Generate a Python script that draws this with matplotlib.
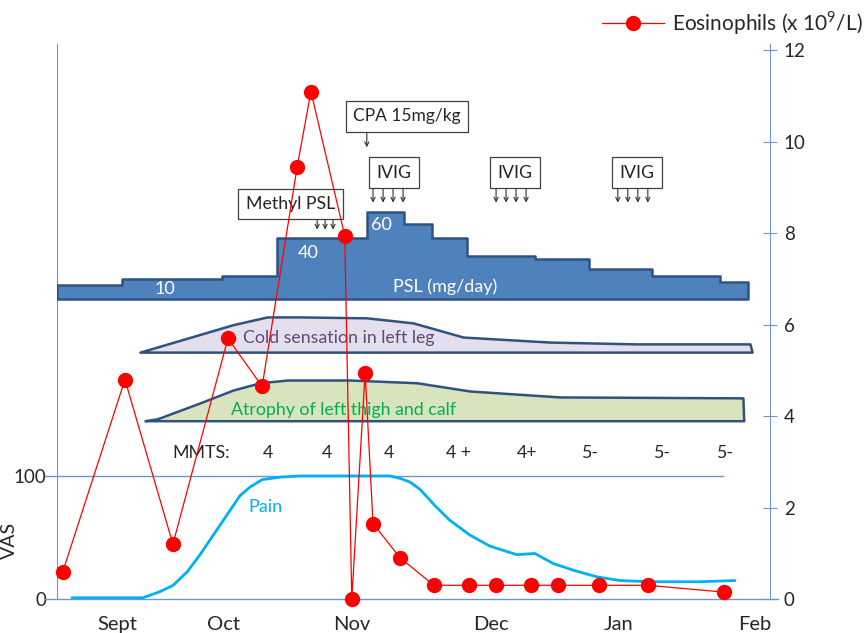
import matplotlib
matplotlib.use("Agg")
import matplotlib.pyplot as plt

plt.rcParams["font.family"] = ["Lato", "DejaVu Sans"]
plt.rcParams["mathtext.fontset"] = "custom"
plt.rcParams["mathtext.rm"] = "Lato"

# x axis: days from the start of the record
months = ["Sept", "Oct", "Nov", "Dec", "Jan", "Feb"]
month_days = [14.4, 40.0, 70.7, 104.0, 134.7, 167.4]

# eosinophil count (x 10^9/L), right axis
eos_days = [1.4, 16.3, 27.8, 41.0, 49.2, 57.6, 60.9, 69.0, 70.7, 73.9, 75.8,
            82.3, 90.4, 98.8, 105.3, 113.7, 120.1, 130.0, 141.7, 160.0]
eos_vals = [0.6, 4.8, 1.2, 5.7, 4.65, 9.45, 11.1, 7.95, 0.0, 4.95, 1.65,
            0.9, 0.3, 0.3, 0.3, 0.3, 0.3, 0.3, 0.3, 0.15]

# pain VAS, left axis
pain_days = [3.6, 10.3, 20.6, 24.7, 27.8, 31.2, 34.3, 37.9, 41.5, 43.9, 46.3,
             49.2, 53.5, 58.3, 79.9, 82.3, 84.7, 87.1, 90.6, 94.2, 99.0, 103.8,
             110.3, 114.6, 118.9, 124.2, 129.5, 135.0, 142.2, 154.2, 162.6]
pain_vas = [1, 1, 1, 6, 11, 22, 36, 54, 72, 84, 91, 97, 99, 100, 100, 98, 95,
            89, 76, 64, 52, 43, 36, 37, 29, 23, 18, 15, 14, 14, 15]

# PSL dose steps (mg/day)
psl_edges = [0, 15.6, 39.6, 52.8, 74.3, 83.2, 89.9, 98.3, 114.6, 127.6, 142.7, 159.0, 165.7]
psl_dose = [10, 14, 16, 42, 60, 52, 42, 30, 27.5, 21, 16, 12]
PSL_BASE = 6.56
PSL_SCALE = 0.0317

# symptom bands (drawn in eosinophil-axis units)
cold_days = [19.9, 42.2, 50.4, 58.3, 74.3, 85.4, 97.4, 118.2, 139.1, 166.2, 166.7]
cold_top = [5.40, 6.00, 6.17, 6.17, 6.15, 6.04, 5.73, 5.62, 5.58, 5.58, 5.40]
COLD_BASE = 5.40
atro_days = [21.1, 24.0, 34.3, 42.2, 48.7, 55.2, 70.3, 86.3, 99.0, 120.6, 164.5, 164.7]
atro_top = [3.90, 3.94, 4.29, 4.57, 4.73, 4.79, 4.79, 4.73, 4.55, 4.42, 4.40, 3.90]
ATRO_BASE = 3.90

# MMTS scores
mmts_days = [50.6, 64.7, 79.6, 96.2, 112.7, 127.6, 145.1, 160.2]
mmts_labels = ["4", "4", "4", "4 +", "4+", "5-", "5-", "5-"]

# treatments
methyl_arrow_days = [62.4, 64.3, 66.2]
cpa_arrow_day = 74.3
ivig_centers = [80.8, 109.9, 139.0]
ivig_arrow_days = [[75.8, 78.2, 80.6, 83.0],
                   [105.3, 107.7, 110.1, 112.5],
                   [134.5, 136.9, 139.3, 141.7]]

axis_blue = "#6f95cc"
edge_blue = "#2f5280"
txt = "#262626"

fig = plt.figure(figsize=(8.68, 6.33), dpi=100)
ax = fig.add_axes([57 / 868, 34 / 633, 713 / 868, 555 / 633])
ax2 = ax.twinx()

ax.set_xlim(0, 171)
ax.set_ylim(0, 451)
ax2.set_ylim(0, 12.14)

# pain line
ax.plot(pain_days, pain_vas, color="#00b0f0", lw=2.0, solid_capstyle="round", zorder=3)
ax.text(49.9, 75, "Pain", color="#00b0f0", fontsize=13, ha="center", va="center")
ax.axhline(100, xmin=-0.017, xmax=0.934, color=axis_blue, lw=1.0, clip_on=False)
ax.axhline(0, xmin=-0.017, xmax=1.011, color=axis_blue, lw=1.0, clip_on=False)

for side in ["top", "bottom", "right"]:
    ax.spines[side].set_visible(False)
ax.spines["left"].set_color(axis_blue)
ax.set_yticks([0, 100])
ax.tick_params(axis="y", length=0, pad=8, labelsize=13.5, labelcolor=txt)
ax.set_xticks(month_days)
ax.set_xticklabels(months)
ax.tick_params(axis="x", length=0, pad=12, labelsize=14.5, labelcolor=txt)
ax.set_ylabel("VAS", fontsize=14, color=txt)
ax.yaxis.set_label_coords(-0.055, 0.106)

for side in ["top", "bottom", "left"]:
    ax2.spines[side].set_visible(False)
ax2.spines["right"].set_color(axis_blue)
ax2.set_yticks(range(0, 13, 2))
ax2.tick_params(axis="y", direction="inout", length=10, color=axis_blue,
                pad=5, labelsize=13.5, labelcolor=txt)

# PSL step band
ax2.fill_between(psl_edges, PSL_BASE,
                 [PSL_BASE + d * PSL_SCALE for d in psl_dose + psl_dose[-1:]],
                 step="post", facecolor="#4f81bd", edgecolor=edge_blue, lw=1.8, zorder=2)
ax2.text(25.9, 6.78, "10", color="white", fontsize=13, ha="center", va="center", zorder=3)
ax2.text(60.2, 7.57, "40", color="white", fontsize=13, ha="center", va="center", zorder=3)
ax2.text(77.7, 8.18, "60", color="white", fontsize=13, ha="center", va="center", zorder=3)
ax2.text(93.0, 6.83, "PSL (mg/day)", color="white", fontsize=13, ha="center", va="center", zorder=3)

# symptom bands
ax2.fill_between(cold_days, COLD_BASE, cold_top, facecolor="#e4dfec",
                 edgecolor=edge_blue, lw=1.8, zorder=2)
ax2.text(67.6, 5.71, "Cold sensation in left leg", color="#5f497a", fontsize=12.8,
         ha="center", va="center", zorder=3)
ax2.fill_between(atro_days, ATRO_BASE, atro_top, facecolor="#d7e4bd",
                 edgecolor=edge_blue, lw=1.8, zorder=2)
ax2.text(68.6, 4.14, "Atrophy of left thigh and calf", color="#00b050", fontsize=12.8,
         ha="center", va="center", zorder=3)

# MMTS row
ax2.text(34.5, 3.19, "MMTS:", color=txt, fontsize=12.8, ha="center", va="center")
for d, lab in zip(mmts_days, mmts_labels):
    ax2.text(d, 3.19, lab, color=txt, fontsize=12.8, ha="center", va="center")

# treatment boxes and arrows
box = dict(boxstyle="square,pad=0.42", fc="white", ec="#404040", lw=0.9)
arrow = dict(arrowstyle="->,head_length=0.3,head_width=0.15", lw=0.8,
             color="#303030", shrinkA=0, shrinkB=0)
ax2.text(56.0, 8.64, "Methyl PSL", fontsize=12.8, color=txt, ha="center", va="center",
         bbox=box, zorder=4)
for d in methyl_arrow_days:
    ax2.annotate("", xy=(d, 8.08), xytext=(d, 8.30), arrowprops=arrow, zorder=4)
ax2.text(84.0, 10.56, "CPA 15mg/kg", fontsize=12.5, color=txt, ha="center", va="center",
         bbox=box, zorder=4)
ax2.annotate("", xy=(cpa_arrow_day, 9.88), xytext=(cpa_arrow_day, 10.20),
             arrowprops=arrow, zorder=4)
for c, days in zip(ivig_centers, ivig_arrow_days):
    ax2.text(c, 9.32, "IVIG", fontsize=12.8, color=txt, ha="center", va="center",
             bbox=box, zorder=4)
    for d in days:
        ax2.annotate("", xy=(d, 8.67), xytext=(d, 8.97), arrowprops=arrow, zorder=4)

# eosinophils
eos_line, = ax2.plot(eos_days, eos_vals, color="#ff0000", lw=0.9, marker="o",
                     markersize=10, clip_on=False, zorder=6)

leg = fig.legend([eos_line], ["Eosinophils (x 10$^9$/L)"], loc="upper right",
                 bbox_to_anchor=(1.016, 1.016), frameon=False, fontsize=15,
                 handlelength=3.0, handletextpad=0.4, labelcolor=txt)

fig.savefig("out.png", dpi=100)
